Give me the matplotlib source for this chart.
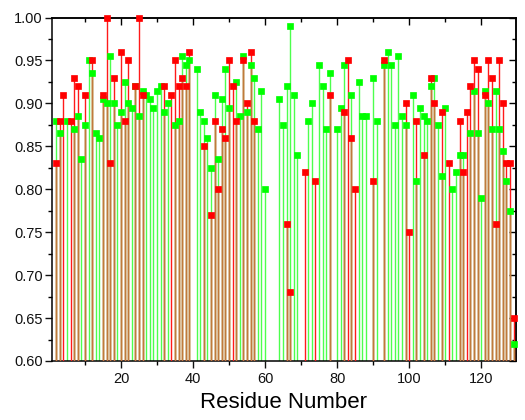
import matplotlib
matplotlib.use("Agg")
import matplotlib.pyplot as plt
import numpy as np

plt.rcParams['font.family'] = ['Liberation Sans', 'DejaVu Sans']

# Red series (residue, value)
red_res = [2, 3, 4, 6, 7, 8, 10, 12, 15, 16, 17, 18, 20, 21, 22, 24, 25, 26,
           32, 34, 35, 36, 37, 38, 39, 43, 45, 46, 47, 48, 49, 50, 51, 52, 54,
           55, 56, 57, 66, 67, 71, 74, 78, 82, 83, 84, 85, 90, 93, 99, 100,
           102, 104, 106, 107, 109, 111, 114, 115, 116, 117, 118, 119, 121,
           122, 123, 124, 125, 126, 127, 128, 129]
red_val = [0.83, 0.88, 0.91, 0.88, 0.93, 0.92, 0.91, 0.95, 0.91, 1.00, 0.83,
           0.93, 0.96, 0.88, 0.95, 0.92, 1.00, 0.91,
           0.92, 0.91, 0.95, 0.92, 0.93, 0.92, 0.96, 0.85, 0.77, 0.88, 0.80,
           0.87, 0.86, 0.95, 0.92, 0.88, 0.95,
           0.90, 0.96, 0.88, 0.76, 0.68, 0.82, 0.81, 0.91, 0.89, 0.95, 0.86,
           0.80, 0.81, 0.95, 0.90, 0.75,
           0.88, 0.84, 0.93, 0.90, 0.89, 0.83, 0.88, 0.82, 0.89, 0.92, 0.95,
           0.94, 0.91,
           0.95, 0.93, 0.76, 0.95, 0.90, 0.83, 0.83, 0.65]

# Green series (residue, value)
green_res = [2, 3, 5, 7, 8, 9, 10, 11, 12, 13, 14, 15, 16, 17, 18, 19, 20, 21,
             22, 23, 24, 25, 26, 27, 28, 29, 30, 31, 32, 33, 35, 36, 37, 38,
             39, 41, 42, 43, 44, 45, 46, 47, 48, 49, 50, 52, 53, 54, 55, 56,
             57, 58, 59, 60, 64, 65, 66, 67, 68, 69, 72, 73, 75, 76, 77, 78,
             80, 81, 82, 84, 86, 87, 88, 90, 91, 93, 94, 95, 96, 97, 98, 99,
             101, 102, 103, 104, 105, 106, 107, 108, 109, 110, 112, 113, 114,
             115, 117, 118, 119, 120, 121, 122, 123, 124, 125, 126, 127, 128,
             129]
green_val = [0.88, 0.865, 0.88, 0.87, 0.885, 0.835, 0.875, 0.95, 0.935, 0.865,
             0.86, 0.905, 0.90, 0.955, 0.90, 0.875, 0.89, 0.925,
             0.90, 0.895, 0.92, 0.885, 0.915, 0.91, 0.905, 0.895, 0.915, 0.92,
             0.89, 0.90, 0.875, 0.88, 0.955, 0.945,
             0.95, 0.94, 0.89, 0.88, 0.86, 0.825, 0.91, 0.835, 0.905, 0.94,
             0.895, 0.925, 0.885, 0.955, 0.89, 0.945,
             0.93, 0.87, 0.915, 0.80, 0.905, 0.875, 0.92, 0.99, 0.91, 0.84,
             0.88, 0.90, 0.945, 0.92, 0.87, 0.935,
             0.87, 0.895, 0.945, 0.91, 0.925, 0.885, 0.885, 0.93, 0.88, 0.945,
             0.96, 0.945, 0.875, 0.955, 0.885, 0.875,
             0.91, 0.81, 0.895, 0.885, 0.88, 0.92, 0.93, 0.875, 0.815, 0.895,
             0.80, 0.82, 0.84,
             0.84, 0.865, 0.915, 0.865, 0.79, 0.915, 0.90, 0.87, 0.915, 0.87,
             0.845, 0.81, 0.775,
             0.62]

x_ticks = [20, 40, 60, 80, 100, 120]
y_ticks = [0.60, 0.65, 0.70, 0.75, 0.80, 0.85, 0.90, 0.95, 1.00]
base = 0.60

fig = plt.figure(figsize=(5.25, 4.2), dpi=100)
ax = fig.add_axes([0.0985, 0.1405, 0.8838, 0.8178])

rd = dict(zip(red_res, red_val))
gd = dict(zip(green_res, green_val))
both = sorted(set(rd) & set(gd))

ax.vlines(green_res, base, green_val, color='#4dff4d', lw=1.0, zorder=2)
ax.vlines(red_res, base, red_val, color='#ff1a1a', lw=1.0, zorder=3)
ax.vlines(both, base, [min(rd[k], gd[k]) for k in both], color='#c07a3c',
          lw=1.0, zorder=4)

ax.plot(green_res, green_val, 's', ms=5, color='#00ff00', mec='#00ff00',
        mew=0.5, zorder=5, clip_on=False)
ax.plot(red_res, red_val, 's', ms=5, color='#ff0000', mec='#ff0000',
        mew=0.5, zorder=6, clip_on=False)

ax.set_xlim(0.75, 129.6)
ax.set_ylim(0.60, 1.00)
ax.set_xticks(x_ticks)
ax.set_xticks(np.arange(10, 130, 20), minor=True)
ax.set_yticks(y_ticks)
ax.set_yticks(np.arange(0.625, 1.0, 0.05), minor=True)
ax.set_yticklabels([f"{v:.2f}" for v in y_ticks])
ax.tick_params(which='major', direction='out', length=5, width=1.0,
               labelsize=10.5, pad=1.5, colors='#111111')
ax.tick_params(which='minor', direction='out', length=3, width=1.0)
ax.tick_params(axis='x', pad=3)
for s in ax.spines.values():
    s.set_linewidth(1.1)

secx = ax.secondary_xaxis('top')
secx.set_xticks(x_ticks)
secx.set_xticks(np.arange(10, 130, 20), minor=True)
secx.tick_params(which='major', direction='in', length=5, width=1.0,
                 labeltop=False)
secx.tick_params(which='minor', direction='in', length=3, width=1.0)
secx.spines['top'].set_linewidth(1.1)

secy = ax.secondary_yaxis('right')
secy.set_yticks(y_ticks)
secy.set_yticks(np.arange(0.625, 1.0, 0.05), minor=True)
secy.tick_params(which='major', direction='in', length=5, width=1.0,
                 labelright=False)
secy.tick_params(which='minor', direction='in', length=3, width=1.0)
secy.spines['right'].set_linewidth(1.1)

ax.set_xlabel('Residue Number', fontsize=16, labelpad=4)

fig.savefig('out.png', dpi=100)
